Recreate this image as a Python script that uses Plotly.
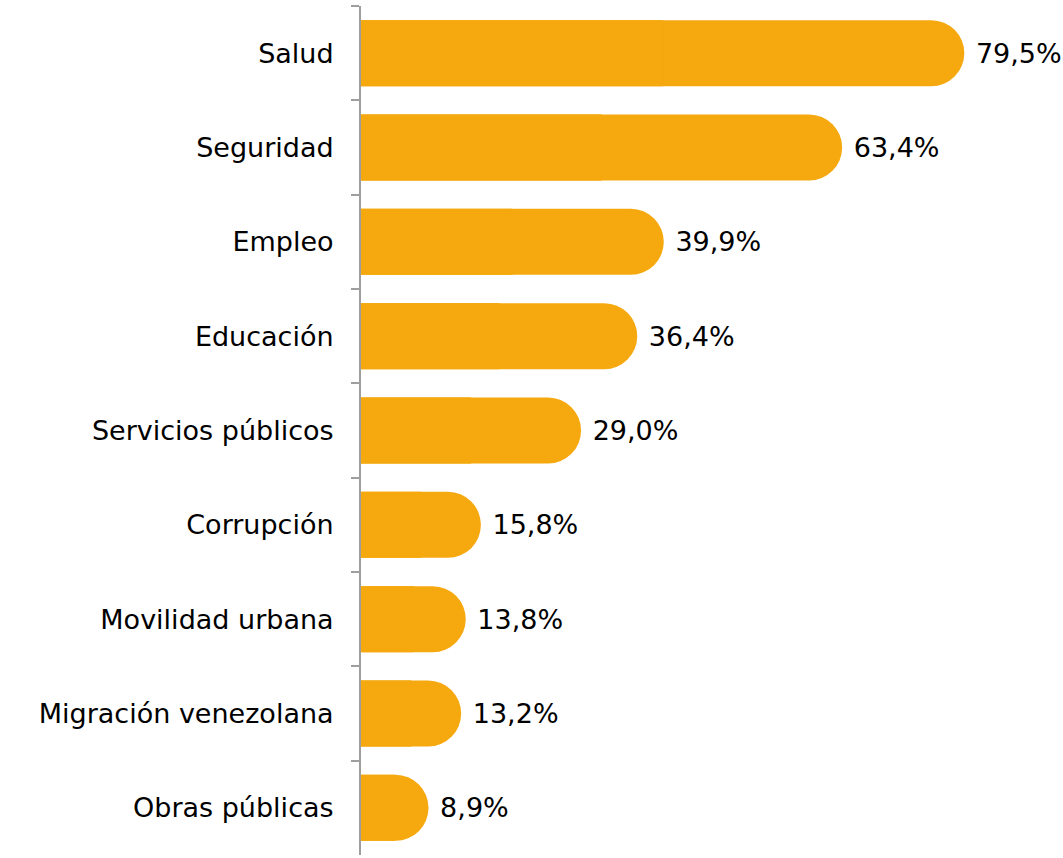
import plotly.graph_objects as go

categories = ["Salud", "Seguridad", "Empleo", "Educación", "Servicios públicos",
              "Corrupción", "Movilidad urbana", "Migración venezolana", "Obras públicas"]
values = [79.5, 63.4, 39.9, 36.4, 29.0, 15.8, 13.8, 13.2, 8.9]

labels = [" " + f"{v:.1f}".replace(".", ",") + "%" for v in values]
color = "#F5A90F"
font_family = "'DejaVu Sans', sans-serif"

fig = go.Figure()
# rounded bars
fig.add_trace(go.Bar(
    y=categories, x=values, orientation="h",
    marker=dict(color=color, cornerradius="50%", line=dict(width=0)),
    width=0.70,
    text=labels, textposition="outside", cliponaxis=False,
    textfont=dict(family=font_family, size=27, color="#000000"),
    hoverinfo="skip",
))
# square left ends
fig.add_trace(go.Bar(
    y=categories, x=[v / 2 for v in values], orientation="h",
    marker=dict(color=color, line=dict(width=0.8, color=color)),
    width=0.692, hoverinfo="skip",
))

fig.update_layout(
    width=1063, height=858,
    barmode="overlay",
    showlegend=False,
    plot_bgcolor="white", paper_bgcolor="white",
    margin=dict(l=361, r=19, t=6, b=3, autoexpand=False),
    font=dict(family=font_family, size=27, color="#000000"),
)
fig.update_xaxes(range=[0, 90], visible=False, showgrid=False, zeroline=False,
                 automargin=False)
fig.update_yaxes(
    categoryorder="array", categoryarray=categories, autorange="reversed",
    automargin=False,
    showline=True, linecolor="#9E9E9E", linewidth=2,
    ticks="outside", tickson="boundaries", ticklen=8, tickcolor="#9E9E9E", tickwidth=2,
    showgrid=False, ticklabelstandoff=20,
    tickfont=dict(family=font_family, size=27, color="#000000"),
)

fig.write_html("out.html",
               config={"displayModeBar": False},
               post_script="document.body.style.margin='0';document.body.style.overflow='hidden';")
